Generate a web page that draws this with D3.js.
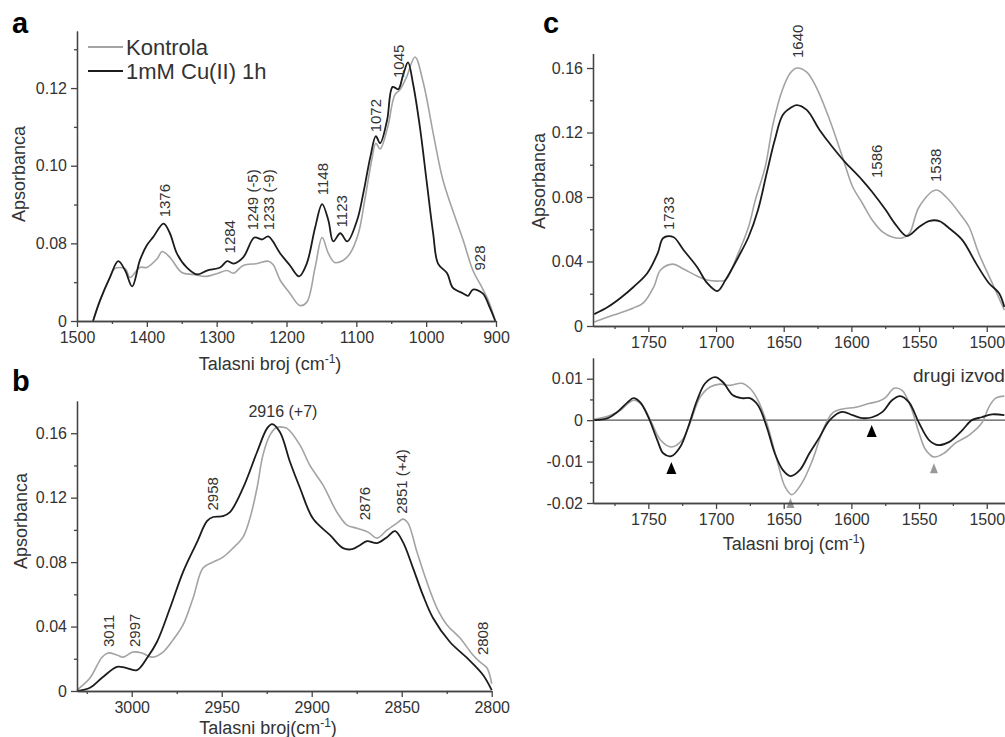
<!DOCTYPE html>
<html>
<head>
<meta charset="utf-8">
<script src="https://cdn.jsdelivr.net/npm/d3@7"></script>
<style>
  body { margin: 0; background: #fff; }
  text { font-family: "Liberation Sans", Arial, sans-serif; fill: #333; }
  .axis path, .axis line { stroke: #444; stroke-width: 1.3; }
  .axis text { font-size: 16px; fill: #333; }
</style>
</head>
<body>
<svg id="fig" width="1005" height="737"></svg>
<script>
// ---- data: [wavenumber, absorbance] ----

// panel a, 1500-900 cm-1
var aCu = [[1477,0.060],[1467,0.0653],[1453,0.0712],[1441,0.0754],[1431,0.073],[1421,0.0689],[1410,0.0756],[1400,0.0795],
  [1391,0.0816],[1376,0.0851],[1367,0.0826],[1357,0.0774],[1343,0.0738],[1328,0.072],[1314,0.073],[1295,0.0738],[1285,0.0754],
  [1276,0.0748],[1262,0.0764],[1246,0.0815],[1235,0.081],[1226,0.0818],[1209,0.0774],[1195,0.0743],[1182,0.0715],[1171,0.0748],
  [1159,0.0841],[1149,0.0901],[1140,0.0859],[1133,0.0805],[1123,0.0826],[1113,0.0805],[1099,0.0859],[1090,0.0929],[1080,0.1022],
  [1072,0.1076],[1066,0.1058],[1056,0.1117],[1048,0.1203],[1040,0.1197],[1033,0.1234],[1026,0.1266],[1019,0.1213],[1009,0.110],
  [999,0.0955],[990,0.0826],[983,0.0748],[970,0.0723],[962,0.0686],[947,0.0671],[940,0.0665],[933,0.0681],[919,0.0671],
  [909,0.0635],[901,0.060]];
var aKontrola = [[1477,0.060],[1467,0.0653],[1453,0.0712],[1446,0.0735],[1431,0.0735],[1424,0.0712],[1410,0.0738],[1400,0.0738],
  [1385,0.0761],[1378,0.0779],[1367,0.0764],[1350,0.0725],[1334,0.072],[1314,0.0715],[1298,0.0723],[1285,0.073],[1276,0.0723],
  [1262,0.0743],[1242,0.0748],[1226,0.0754],[1219,0.0745],[1209,0.0705],[1195,0.0671],[1181,0.064],[1171,0.0648],[1159,0.0738],
  [1149,0.0815],[1140,0.0774],[1131,0.0751],[1119,0.0756],[1109,0.0774],[1097,0.0826],[1088,0.0911],[1078,0.1014],[1072,0.1058],
  [1066,0.1043],[1055,0.110],[1045,0.1182],[1037,0.1197],[1028,0.1229],[1016,0.128],[1004,0.1213],[990,0.1084],[976,0.0963],
  [962,0.0885],[947,0.0808],[933,0.073],[920,0.0686],[911,0.0653],[901,0.060]];
var aPeaks = [["1376",1374,0.0867],["1284",1281,0.0774],["1249 (-5)",1248,0.0834],["1233 (-9)",1225,0.0834],
  ["1148",1149,0.0924],["1123",1120.5,0.0841],["1072",1073,0.1086],["1045",1040,0.1226],["928",923,0.073]];
var aXTicks = [1500,1400,1300,1200,1100,1000,900];
var aXMinor = [1450,1350,1250,1150,1050,950];
var aYTicks = [0.06,0.08,0.10,0.12];
var aYTickLabels = ["0","0.08","0.10","0.12"];
var aYMinor = [0.07,0.09,0.11,0.13];

// panel b, 3030-2800 cm-1
var bCu = [[3030.4,0],[3023.2,0.002],[3016,0.0087],[3008.2,0.015],[3003.7,0.0145],[2997.1,0.013],[2991.5,0.0205],[2986,0.0304],
  [2978.7,0.0515],[2971.5,0.0738],[2963.7,0.0924],[2958.2,0.1054],[2954.8,0.108],[2949.3,0.1085],[2945.4,0.111],[2938.2,0.1259],
  [2930.4,0.1482],[2924.8,0.163],[2922,0.1656],[2917.6,0.1606],[2912,0.142],[2906.5,0.126],[2899.3,0.107],[2889.8,0.0967],
  [2882.6,0.0887],[2877.6,0.088],[2873.2,0.0905],[2869.3,0.093],[2863.7,0.0918],[2858.2,0.0955],[2853.7,0.0992],[2849.3,0.0924],
  [2843.7,0.0763],[2838.2,0.0595],[2832.6,0.0453],[2823.2,0.0304],[2813.7,0.0205],[2804.8,0.0099],[2800,0.0005]];
var bKontrola = [[3030.4,0.0006],[3023.2,0.008],[3016.5,0.021],[3013.2,0.0236],[3008.2,0.0223],[3004.8,0.021],[2999.3,0.0242],
  [2994.3,0.0236],[2988.7,0.021],[2982.6,0.0242],[2977.1,0.0316],[2971.5,0.041],[2965.9,0.0577],[2960.4,0.0763],[2954.8,0.08],
  [2949.3,0.0831],[2943.7,0.0887],[2938.2,0.0955],[2934.3,0.1073],[2930.4,0.1259],[2927.1,0.1464],[2923.2,0.1588],[2919.3,0.1637],
  [2915.9,0.1637],[2913.7,0.163],[2906.5,0.1526],[2901,0.140],[2893.7,0.1278],[2886,0.111],[2880.4,0.103],[2874.8,0.101],
  [2868.7,0.0986],[2863.7,0.0949],[2858.2,0.0998],[2852.6,0.1042],[2849.3,0.1067],[2846.5,0.1042],[2841.5,0.0862],[2836,0.0676],
  [2830.4,0.0515],[2824.8,0.041],[2817.6,0.0329],[2810.4,0.0223],[2806.5,0.018],[2802.6,0.0143],[2800,0.0045]];
var bPeaks = [["3011",3013,0.0273],["2997",2998.2,0.0273],["2958",2955.3,0.112],["2876",2870.4,0.106],
  ["2851 (+4)",2850,0.110],["2808",2804.8,0.0223]];
var bTopLabel = ["2916 (+7)",2916,0.170];
var bXTicks = [3000,2950,2900,2850,2800];
var bXMinor = [3025,2975,2925,2875,2825];
var bYTicks = [0,0.04,0.08,0.12,0.16];
var bYMinor = [0.02,0.06,0.10,0.14];

// panel c, amide region
var cCu = [[1790,0.0074],[1780,0.0118],[1770.6,0.0174],[1761,0.0242],[1750.7,0.0329],[1743,0.0453],[1739,0.0546],[1731.6,0.0552],
  [1724,0.0471],[1714,0.0366],[1706.6,0.0267],[1699,0.0217],[1693,0.0285],[1683.5,0.0428],[1676,0.0552],[1669,0.0719],
  [1662.5,0.095],[1656.6,0.1153],[1650.7,0.1309],[1644,0.1358],[1640.4,0.137],[1633,0.134],[1623.5,0.1216],[1614,0.111],
  [1604,0.101],[1599,0.0967],[1592,0.0905],[1584.6,0.0831],[1574.6,0.0719],[1567,0.0626],[1559,0.0558],[1550,0.0614],
  [1542.6,0.0651],[1535,0.0651],[1528,0.0608],[1518,0.0533],[1508,0.039],[1498.5,0.0267],[1491,0.0205],[1487,0.0118]];
var cKontrola = [[1790,0.0025],[1775.7,0.0068],[1761,0.0112],[1753.7,0.0143],[1746,0.0242],[1741,0.0347],[1732,0.0384],
  [1724,0.0353],[1714,0.031],[1706.6,0.0285],[1697,0.0279],[1693,0.0285],[1683.5,0.0453],[1676,0.0614],[1671,0.078],
  [1663.7,0.0986],[1657.7,0.126],[1651,0.1464],[1645,0.157],[1640.4,0.16],[1633,0.1575],[1626,0.1482],[1616,0.1278],
  [1606.6,0.1048],[1599,0.0862],[1592,0.0763],[1584.6,0.0657],[1577,0.0583],[1570,0.0552],[1562.5,0.0546],[1557,0.0577],
  [1550,0.0738],[1537.5,0.0843],[1530,0.08],[1518,0.0676],[1513,0.0614],[1506,0.0453],[1496,0.0267],[1487,0.0099]];
var cPeaks = [["1733",1735,0.0595],["1640",1640,0.1662],["1586",1581.6,0.0918],["1538",1537.5,0.0893]];
var cXTicks = [1750,1700,1650,1600,1550,1500];
var cXMinor = [1775,1725,1675,1625,1575,1525];
var cYTicks = [0,0.04,0.08,0.12,0.16];
var cYMinor = [0.02,0.06,0.10,0.14];

// panel c, second derivative
var dCu = [[1790,0],[1780,0.0005],[1772.8,0.002],[1765.4,0.0043],[1761,0.0053],[1756,0.0043],[1750,0.0007],[1743.4,-0.0048],
  [1739,-0.008],[1733,-0.0087],[1726.5,-0.0065],[1720.6,-0.0017],[1714,0.0048],[1708,0.0089],[1700.7,0.0104],[1695,0.0092],
  [1687.5,0.006],[1681,0.0053],[1675,0.0053],[1669,0.0036],[1662.5,-0.0017],[1656.6,-0.008],[1650.7,-0.012],[1645,-0.0135],
  [1638,-0.012],[1631,-0.008],[1623.5,-0.0041],[1616,0],[1607,0.002],[1599,0.0012],[1592,0.0005],[1584.6,0.0007],[1577,0.002],
  [1570,0.0048],[1564,0.0058],[1557.4,0.0043],[1550,-0.0007],[1542.6,-0.0048],[1536,-0.006],[1528,-0.0053],[1518,-0.0024],
  [1511,0],[1503.7,0.0007],[1496,0.0014],[1487,0.0012]];
var dKontrola = [[1790,0.0002],[1778,0.0012],[1770.6,0.0024],[1761,0.0048],[1754.4,0.0036],[1748.5,0],[1741,-0.0048],
  [1733,-0.0065],[1725,-0.0048],[1719,-0.0005],[1711.8,0.0055],[1704.4,0.008],[1697,0.0087],[1689.7,0.0084],[1681,0.0089],
  [1675,0.0077],[1669,0.0048],[1662.5,-0.0007],[1655,-0.0096],[1649,-0.0161],[1644,-0.018],[1636.6,-0.0152],[1628.7,-0.0096],
  [1621,-0.0024],[1614,0.0017],[1606.6,0.0027],[1596.7,0.0031],[1587,0.004],[1579.4,0.0046],[1574.6,0.0055],[1568.4,0.0077],
  [1562.5,0.0072],[1556,0.0031],[1550,-0.0031],[1545,-0.0072],[1539,-0.0089],[1531.6,-0.008],[1523,-0.0055],[1513,-0.0036],
  [1503.7,-0.0007],[1498.5,0.0031],[1493.4,0.0053],[1487,0.0058]];
// markers under the minima: [wavenumber, value at tip, series]
var dMarks = [[1733,-0.0101,"cu"],[1585,-0.0012,"cu"],[1645,-0.0188,"k"],[1539,-0.0104,"k"]];
var dYTicks = [0.01,0,-0.01,-0.02];
var dYTickLabels = ["0.01","0","-0.01","-0.02"];
var dYMinor = [0.005,-0.005,-0.015];

var seriesNames = ["Kontrola","1mM Cu(II) 1h"];

// ---- drawing ----
var GRAY = "#a3a3a3", BLACK = "#1c1c1c";
var svg = d3.select("#fig");

function makeLine(x, y) {
  return d3.line()
    .x(function(d) { return x(d[0]); })
    .y(function(d) { return y(d[1]); })
    .curve(d3.curveCatmullRom.alpha(0.5));
}

function axes(x, y, o) {
  var y0 = y.range()[0], x0 = x.range()[0];
  svg.append("g").attr("class","axis").attr("transform","translate(0,"+y0+")")
    .call(d3.axisBottom(x).tickValues(o.xTicks).tickSize(6).tickSizeOuter(0).tickPadding(5).tickFormat(d3.format("d")));
  svg.append("g").attr("class","axis").attr("transform","translate(0,"+y0+")")
    .call(d3.axisBottom(x).tickValues(o.xMinor).tickSize(3).tickSizeOuter(0).tickFormat(""));
  svg.append("g").attr("class","axis").attr("transform","translate("+x0+",0)")
    .call(d3.axisLeft(y).tickValues(o.yTicks).tickSize(6).tickSizeOuter(0).tickPadding(4)
      .tickFormat(function(d, i) { return o.yLabels[i]; }));
  svg.append("g").attr("class","axis").attr("transform","translate("+x0+",0)")
    .call(d3.axisLeft(y).tickValues(o.yMinor).tickSize(3).tickSizeOuter(0).tickFormat(""));
}

function curves(x, y, gray, black) {
  var line = makeLine(x, y);
  svg.append("path").datum(gray).attr("d", line)
    .attr("fill","none").attr("stroke",GRAY).attr("stroke-width",1.6);
  svg.append("path").datum(black).attr("d", line)
    .attr("fill","none").attr("stroke",BLACK).attr("stroke-width",1.8);
}

function peakLabels(x, y, peaks) {
  svg.selectAll(null).data(peaks).enter().append("text")
    .attr("transform", function(d) { return "translate("+x(d[1])+","+y(d[2])+") rotate(-90)"; })
    .attr("dy","0.36em")
    .style("font-size","15px")
    .text(function(d) { return d[0]; });
}

function yTitle(cx, cy) {
  svg.append("text").attr("transform","translate("+cx+","+cy+") rotate(-90)")
    .attr("text-anchor","middle").attr("dy","0.36em").style("font-size","18px").text("Apsorbanca");
}

function xTitle(cx, by, gap) {
  var t = svg.append("text").attr("x",cx).attr("y",by).attr("text-anchor","middle").style("font-size","18px");
  t.append("tspan").text(gap ? "Talasni broj(cm" : "Talasni broj (cm");
  t.append("tspan").attr("dy","-7").style("font-size","12px").text("-1");
  t.append("tspan").attr("dy","7").text(")");
}

function panelLetter(s, px, py) {
  svg.append("text").attr("x",px).attr("y",py).style("font-size","29px").style("font-weight","bold")
    .style("fill","#000").text(s);
}

// panel a
var xa = d3.scaleLinear().domain([1500, 900]).range([77, 496]);
var ya = d3.scaleLinear().domain([0.06, 0.1347]).range([321, 31]);
curves(xa, ya, aKontrola, aCu);
axes(xa, ya, {xTicks:aXTicks, xMinor:aXMinor, yTicks:aYTicks, yLabels:aYTickLabels, yMinor:aYMinor});
peakLabels(xa, ya, aPeaks);
yTitle(19, 174);
xTitle(270, 370, false);
panelLetter("a", 12, 33);

// legend
var legend = svg.append("g").attr("transform","translate(88,47)");
legend.selectAll("line").data(seriesNames).enter().append("line")
  .attr("x1",0).attr("x2",35)
  .attr("y1",function(d,i){ return i*24; }).attr("y2",function(d,i){ return i*24; })
  .attr("stroke",function(d,i){ return i ? BLACK : GRAY; })
  .attr("stroke-width",function(d,i){ return i ? 2.2 : 2; });
legend.selectAll("text").data(seriesNames).enter().append("text")
  .attr("x",38).attr("y",function(d,i){ return i*24 + 8; })
  .style("font-size","22px").text(function(d){ return d; });

// panel b
var xb = d3.scaleLinear().domain([3030.4, 2800]).range([77, 491.7]);
var yb = d3.scaleLinear().domain([0, 0.18]).range([691, 401]);
curves(xb, yb, bKontrola, bCu);
axes(xb, yb, {xTicks:bXTicks, xMinor:bXMinor, yTicks:bYTicks, yLabels:bYTicks.map(function(v){ return v === 0 ? "0" : d3.format(".2f")(v); }), yMinor:bYMinor});
peakLabels(xb, yb, bPeaks);
svg.append("text").attr("x",xb(bTopLabel[1])).attr("y",yb(bTopLabel[2])).attr("text-anchor","middle")
  .style("font-size","16px").text(bTopLabel[0]);
yTitle(21, 521);
xTitle(268, 734, true);
panelLetter("b", 12, 391);

// panel c top
var xc = d3.scaleLinear().domain([1790.9, 1480]).range([593, 1013.8]);
var yc = d3.scaleLinear().domain([0, 0.169]).range([326, 53.5]);
curves(xc, yc, cKontrola, cCu);
axes(xc, yc, {xTicks:cXTicks, xMinor:cXMinor, yTicks:cYTicks, yLabels:cYTicks.map(function(v){ return v === 0 ? "0" : d3.format(".2f")(v); }), yMinor:cYMinor});
peakLabels(xc, yc, cPeaks);
yTitle(539, 181);
panelLetter("c", 543, 33);

// panel c bottom, second derivative
var yd = d3.scaleLinear().domain([-0.02, 0.015]).range([503, 358]);
svg.append("line").attr("x1",xc.range()[0]).attr("x2",xc.range()[1]).attr("y1",yd(0)).attr("y2",yd(0))
  .attr("stroke","#555").attr("stroke-width",1.1);
svg.selectAll(null).data(dMarks).enter().append("path")
  .attr("transform", function(d) { return "translate("+xc(d[0])+","+yd(d[1])+")"; })
  .attr("d", function(d) { return d[2] === "cu" ? "M0,0L-5,12L5,12Z" : "M0,0L-4,10L4,10Z"; })
  .attr("fill", function(d) { return d[2] === "cu" ? "#000" : "#999"; });
curves(xc, yd, dKontrola, dCu);
axes(xc, yd, {xTicks:cXTicks, xMinor:cXMinor, yTicks:dYTicks, yLabels:dYTickLabels, yMinor:dYMinor});
svg.append("text").attr("x",913).attr("y",382).style("font-size","19px").text("drugi izvod");
xTitle(794, 550, false);
</script>
</body>
</html>
